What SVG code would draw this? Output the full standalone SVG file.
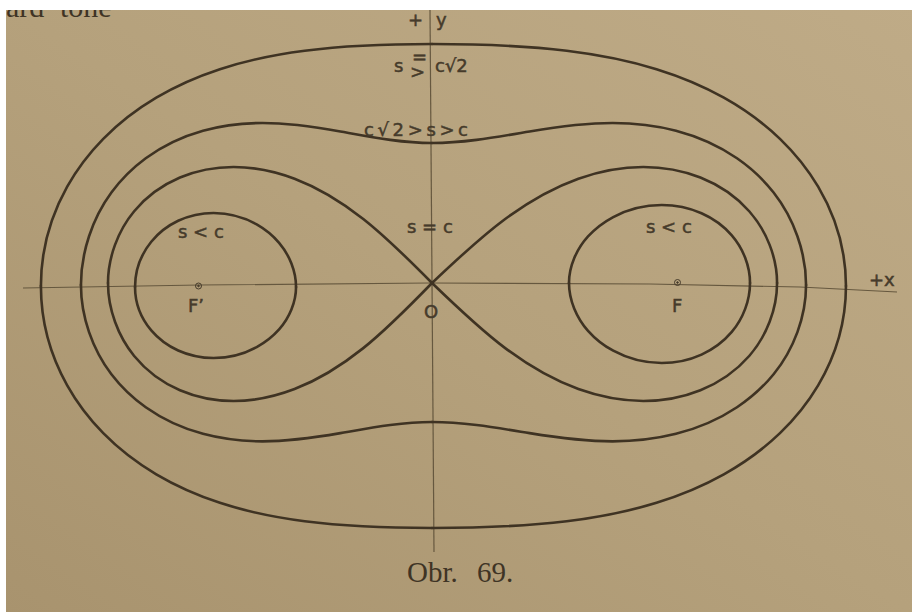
<svg xmlns="http://www.w3.org/2000/svg" xmlns:xlink="http://www.w3.org/1999/xlink" width="912" height="612" viewBox="0 0 912 612">
<style>
.curve{fill:none;stroke:#3f3323;stroke-width:2.6;stroke-linecap:round;vector-effect:non-scaling-stroke}
.axis{fill:none;stroke:#66583f;stroke-width:1.2}
.lbl{font-family:"DejaVu Sans","Liberation Sans",sans-serif;font-size:18px;fill:#463b2b;stroke:#463b2b;stroke-width:0.5}
.cap{font-family:"Liberation Serif","DejaVu Serif",serif;fill:#3f3425}
</style>
<defs>
<linearGradient id="paper" x1="0" y1="1" x2="1" y2="0">
<stop offset="0" stop-color="#a8936e"/>
<stop offset="0.5" stop-color="#b5a17c"/>
<stop offset="1" stop-color="#bfab87"/>
</linearGradient>
<path id="qO" class="curve" d="M0,-118.32 C20.03,-118.32 40.14,-117.68 60,-115.04 C73.55,-113.24 87.06,-110.41 100,-106.02 C110.44,-102.48 120.61,-97.87 130,-92.11 C139.12,-86.51 147.64,-79.74 155,-71.97 C161.63,-64.97 167.42,-57.07 172,-48.59 C179.94,-33.88 184.39,-16.72 184.39,0"/>
<path id="qP" class="curve" d="M0,-59.16 C13.43,-59.16 26.76,-61.70 40,-63.97 C51.23,-65.90 62.61,-67.50 74,-67.50 C82.73,-67.50 91.56,-66.52 100,-64.27 C108.86,-61.91 117.49,-58.05 125,-52.79 C130.65,-48.83 135.78,-43.99 140,-38.53 C148.30,-27.77 153.30,-13.59 153.30,0"/>
<path id="qL" class="curve" d="M0,0 C9.61,-9.61 19.27,-19.26 30,-27.60 C39.13,-34.69 49.17,-40.90 60,-44.95 C68.46,-48.11 77.57,-50 86.60,-50 C94.55,-50 102.66,-48.51 110,-45.45 C117.60,-42.28 124.69,-37.23 130,-30.93 C137.09,-22.53 141.42,-10.99 141.42,0"/>
<path id="qI" class="curve" d="M57.45,0 C57.45,-7.13 60.42,-14.53 65,-20 C67.79,-23.33 71.24,-26.18 75,-28.34 C80.75,-31.65 87.59,-33.5 94.22,-33.5 C99.61,-33.5 105.14,-32.29 110,-29.96 C114.6,-27.76 118.81,-24.45 122,-20.47 C126.52,-14.82 129.23,-7.24 129.23,0"/>
</defs>
<rect x="0" y="0" width="912" height="612" fill="url(#paper)"/>
<text class="cap" x="6" y="17" font-size="30">ard</text>
<text class="cap" x="60" y="17" font-size="30">tone</text>
<rect x="0" y="0" width="912" height="10" fill="#ffffff"/>
<rect x="0" y="0" width="6" height="612" fill="#ffffff"/>
<g id="axes">
<polyline class="axis" points="23,288 200,285 430,283 650,284 800,287 897,292"/>
<line class="axis" x1="430" y1="10" x2="434" y2="552"/>
</g>
<g id="curves">
<g id="outer">
<use xlink:href="#qO" transform="translate(432,286) scale(2.245,2.045)"/>
<use xlink:href="#qO" transform="translate(432,286) scale(-2.121,2.045)"/>
<use xlink:href="#qO" transform="translate(432,286) scale(2.245,-2.045)"/>
<use xlink:href="#qO" transform="translate(432,286) scale(-2.121,-2.045)"/>
</g>
<g id="peanut">
<use xlink:href="#qP" transform="translate(432,285) scale(2.44,2.4)"/>
<use xlink:href="#qP" transform="translate(432,285) scale(-2.29,2.4)"/>
<use xlink:href="#qP" transform="translate(432,285) scale(2.44,-2.316)"/>
<use xlink:href="#qP" transform="translate(432,285) scale(-2.29,-2.316)"/>
</g>
<g id="lemniscate">
<use xlink:href="#qL" transform="translate(432,283) scale(2.44,2.32)"/>
<use xlink:href="#qL" transform="translate(432,283) scale(-2.291,2.32)"/>
<use xlink:href="#qL" transform="translate(432,283) scale(2.44,-2.36)"/>
<use xlink:href="#qL" transform="translate(432,283) scale(-2.291,-2.36)"/>
</g>
<g id="oval-right">
<use xlink:href="#qI" transform="translate(424.1,283) scale(2.522,2.328)"/>
<use xlink:href="#qI" transform="translate(424.1,283) scale(2.522,-2.39)"/>
</g>
<g id="oval-left">
<use xlink:href="#qI" transform="translate(424.9,287) scale(-2.243,2.21)"/>
<use xlink:href="#qI" transform="translate(424.9,287) scale(-2.243,-2.12)"/>
</g>
</g>
<g id="foci" fill="none" stroke="#463b2b" stroke-width="1">
<g id="focus-left"><circle cx="198.5" cy="286" r="3"/><circle cx="198.5" cy="286" r="0.8" fill="#463b2b"/></g>
<g id="focus-right"><circle cx="677.5" cy="282.5" r="3"/><circle cx="677.5" cy="282.5" r="0.8" fill="#463b2b"/></g>
</g>
<g id="labels">
<text class="lbl" x="408" y="26">+</text>
<text class="lbl" x="436" y="26">y</text>
<text class="lbl" x="394" y="72">s</text>
<text class="lbl" x="412" y="63" font-size="12">=</text>
<text class="lbl" x="410" y="78" font-size="20">&gt;</text>
<text class="lbl" x="435" y="72">c√2</text>
<text class="lbl" x="364" y="136" font-size="19" textLength="104" lengthAdjust="spacing">c√2&gt;s&gt;c</text>
<text class="lbl" x="178" y="238">s &lt; c</text>
<text class="lbl" x="646" y="233">s &lt; c</text>
<text class="lbl" x="407" y="233">s = c</text>
<text class="lbl" x="424" y="318" font-size="22">O</text>
<text class="lbl" x="188" y="312" font-size="20">F’</text>
<text class="lbl" x="672" y="312" font-size="20">F</text>
<text class="lbl" x="869" y="286" font-size="16">+</text>
<text class="lbl" x="884" y="286" font-size="16">x</text>
</g>
<g id="caption">
<text class="cap" x="407" y="582" font-size="29">Obr.</text>
<text class="cap" x="477" y="582" font-size="29">69.</text>
</g>
</svg>
